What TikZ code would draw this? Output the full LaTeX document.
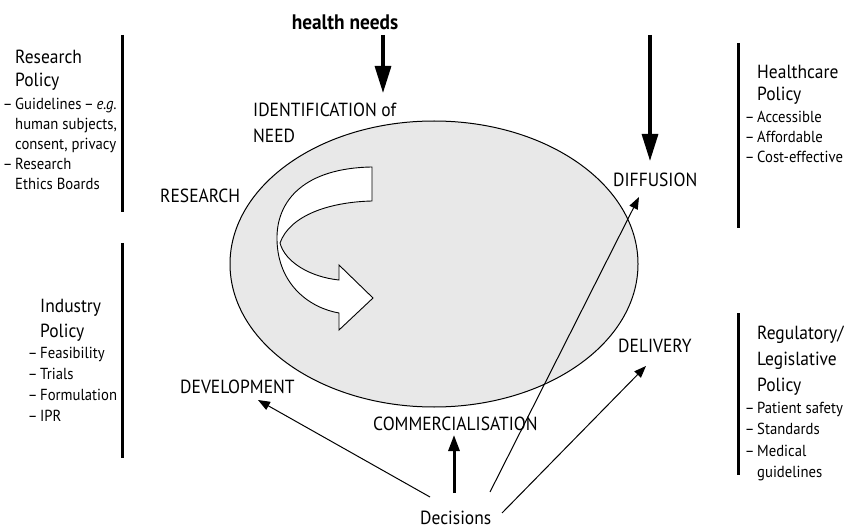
\documentclass[tikz,border=0pt]{standalone}
\usepackage{fontspec}
\setmainfont{PT Sans}[FakeStretch=0.92]
\usetikzlibrary{arrows.meta}

\begin{document}
\begin{tikzpicture}[x=1pt,y=-1pt,
  stage/.style={font=\fontsize{19}{22}\selectfont, inner sep=0pt, anchor=base west},
  ptitle/.style={font=\fontsize{19}{23}\selectfont, inner sep=0pt, anchor=base west},
  pitem/.style={font=\fontsize{16}{20}\selectfont, inner sep=0pt, anchor=base west},
  bar/.style={line width=3pt},
  bigarrow/.style={line width=3.2pt, -{Triangle[length=27pt,width=16pt]}},
  midarrow/.style={line width=3pt, -{Triangle[length=16pt,width=11pt]}},
  thinarrow/.style={line width=1pt, -{Triangle[length=12pt,width=9pt]}},
]
\useasboundingbox (0,0) rectangle (848,529);

% central cycle
\draw[line width=1pt, fill=black!9] (434,264) ellipse [x radius=204, y radius=143];

% twisted ribbon arrow inside the cycle
\draw[line width=0.9pt, fill=white, line join=miter]
  (372,167) .. controls (305,168) and (276,200) .. (277,240)
  .. controls (278,285) and (310,308) .. (339,313)
  -- (339,330) -- (373,298) -- (339,265) -- (339,280)
  .. controls (310,277) and (285,262) .. (280,243)
  .. controls (290,215) and (330,202) .. (372,201) -- cycle;

% stage labels
\node[font=\bfseries\fontsize{21}{24}\selectfont, inner sep=0pt, anchor=base] (hn) at (345,30) {health needs};
\node[stage] (idA) at (253,117) {IDENTIFICATION of};
\node[stage] (idB) at (253,143) {NEED};
\node[stage] (res) at (160,203) {RESEARCH};
\node[stage] (dif) at (613,187) {DIFFUSION};
\node[stage] (del) at (618,352) {DELIVERY};
\node[stage] (dev) at (180,393) {DEVELOPMENT};
\node[stage] (com) at (373,430) {COMMERCIALISATION};
\node[stage] (dec) at (420,524) {Decisions};

% arrow end points
\coordinate (hnTop) at (383,35);
\coordinate (hnTip) at (383,93);
\coordinate (dfTop) at (650,35);
\coordinate (dfTip) at (650,161);
\coordinate (decL) at (430,497);
\coordinate (decC) at (454,493);
\coordinate (decD) at (490,492);
\coordinate (decR) at (502,513);
\coordinate (devTip) at (258,400);
\coordinate (comTip) at (454,435);
\coordinate (difTip) at (639,197);
\coordinate (delTip) at (646,366);

% arrows
\draw[bigarrow] (hnTop) -- (hnTip);
\draw[bigarrow] (dfTop) -- (dfTip);
\draw[midarrow] (decC) -- (comTip);
\draw[thinarrow] (decL) -- (devTip);
\draw[thinarrow] (decD) -- (difTip);
\draw[thinarrow] (decR) -- (delTip);

% policy separators
\draw[bar] (122,35) -- (122,212);
\draw[bar] (122,243) -- (122,458);
\draw[bar] (738,43) -- (738,228);
\draw[bar] (738,313) -- (738,475);

% research policy
\node[ptitle] (rpA) at (15,64) {Research};
\node[ptitle] (rpB) at (15,87) {Policy};
\foreach \txt [count=\i from 0] in {{\llap{–\,}Guidelines\,–\,\textit{e.g.}}, {human subjects,}, {consent, privacy}, {\llap{–\,}Research}, {Ethics Boards}}
  \node[pitem] (rp-\i) at (15,110+20*\i) {\txt};

% industry policy
\node[ptitle] (ipA) at (40,312) {Industry};
\node[ptitle] (ipB) at (40,337) {Policy};
\foreach \txt [count=\i from 0] in {{\llap{–\,}Feasibility}, {\llap{–\,}Trials}, {\llap{–\,}Formulation}, {\llap{–\,}IPR}}
  \node[pitem] (ip-\i) at (40,358+21*\i) {\txt};

% healthcare policy
\node[ptitle] (hpA) at (757,79) {Healthcare};
\node[ptitle] (hpB) at (757,101) {Policy};
\foreach \txt [count=\i from 0] in {{\llap{–\,}Accessible}, {\llap{–\,}Affordable}, {\llap{–\,}Cost-effective}}
  \node[pitem] (hp-\i) at (757,123+20*\i) {\txt};

% regulatory / legislative policy
\node[ptitle] (lpA) at (757,339) {Regulatory/};
\node[ptitle] (lpB) at (757,365) {Legislative};
\node[ptitle] (lpC) at (757,391) {Policy};
\foreach \txt [count=\i from 0] in {{\llap{–\,}Patient safety}, {\llap{–\,}Standards}, {\llap{–\,}Medical}, {guidelines}}
  \node[pitem] (lp-\i) at (757,413+21.5*\i) {\txt};

\end{tikzpicture}
\end{document}
